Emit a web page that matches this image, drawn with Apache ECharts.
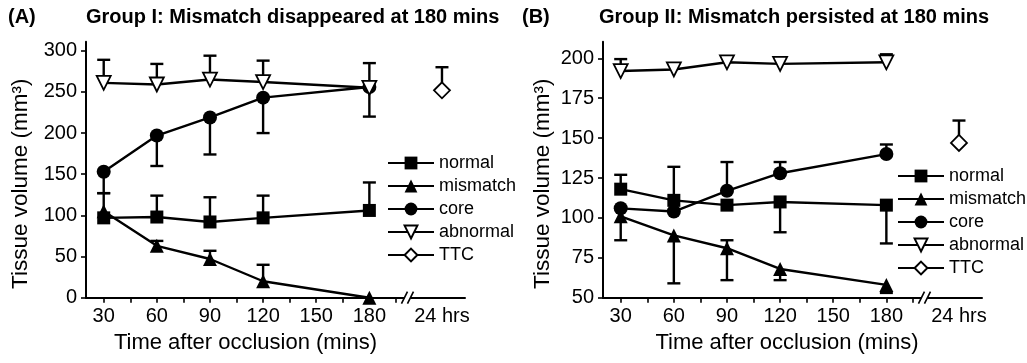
<!DOCTYPE html>
<html>
<head>
<meta charset="utf-8">
<script src="https://cdn.jsdelivr.net/npm/echarts@6/dist/echarts.min.js"></script>
<style>
html, body { margin: 0; padding: 0; background: #fff; }
#chart { width: 1027px; height: 363px; }
</style>
</head>
<body>
<div id="chart"></div>
<script>
const FONT = '"Liberation Sans", Arial, sans-serif';

// time axis
const times = [30, 60, 90, 120, 180];
const timeLabels = [30, 60, 90, 120, 150, 180];
const timeTicks = [30, 45, 60, 75, 90, 105, 120, 135, 150, 165, 180, 195];
const ttcTime = 221;      // the "24 hrs" slot after the break
const breakAt = 201.5;
const legendNames = ['normal', 'mismatch', 'core', 'abnormal', 'TTC'];

// Group I
const aNormal = [97, 98, 92, 97, 106];
const aMismatch = [105, 63, 47, 20, 0];
const aCore = [153, 197, 219, 243, 256];
const aAbnormal = [261, 259, 265, 262, 255];
const aTTC = 252;
// error bar ends, null = not drawn
const aNormalErr = [127, 124, 122, 124, 140];
const aMismatchErr = [null, 69, 57, 40, null];
const aCoreErr = [127, 160, 174, 200, 220];
const aAbnormalErr = [289, 284, 294, 288, 285];
const aTTCErr = 280;
const aTicksY = [0, 50, 100, 150, 200, 250, 300];

// Group II
const bNormal = [118, 111, 108, 110, 108];
const bMismatch = [101, 89, 81, 68, 58];
const bCore = [106, 104, 117, 128, 140];
const bAbnormal = [192, 193, 197.5, 196.5, 197.5];
const bTTC = 147;
const bNormalErr = [127, 132, null, 91, 84];
const bMismatchErr = [86, 59, 61, 61, 53];
const bMismatchErrUp = [null, null, 86, null, null];
const bCoreErr = [null, null, 135, 135, 146];
const bAbnormalErr = [199.5, null, null, null, 202.5];
const bTTCErr = 161;
const bTicksY = [50, 75, 100, 125, 150, 175, 200];

const marks = {
    normal: { symbol: 'rect', size: 13, fill: '#000' },
    mismatch: { symbol: 'triangle', size: 14, fill: '#000' },
    core: { symbol: 'circle', size: 14, fill: '#000' },
    abnormal: { symbol: 'triangle', size: 14, rotate: 180, fill: '#fff' },
    TTC: { symbol: 'diamond', size: 16, fill: '#fff' }
};

function pts(xs, ys) {
    return xs.map((x, i) => [x, ys[i]]);
}
function ends(xs, ys, e) {
    const out = [];
    xs.forEach((x, i) => { if (e[i] != null) out.push([x, ys[i], e[i]]); });
    return out;
}

function errRender(params, api) {
    const p0 = api.coord([api.value(0), api.value(1)]);
    const p1 = api.coord([api.value(0), api.value(2)]);
    const w = 6.5;
    return {
        type: 'group',
        children: [
            { type: 'line', shape: { x1: p0[0], y1: p0[1], x2: p1[0], y2: p1[1] }, style: { stroke: '#000', lineWidth: 2.4 } },
            { type: 'line', shape: { x1: p1[0] - w, y1: p1[1], x2: p1[0] + w, y2: p1[1] }, style: { stroke: '#000', lineWidth: 2.4 } }
        ]
    };
}

function lineSeries(name, data, gi) {
    const m = marks[name];
    return {
        type: 'line', name, data, xAxisIndex: gi, yAxisIndex: gi,
        symbol: m.symbol, symbolSize: m.size, symbolRotate: m.rotate || 0,
        showAllSymbol: true, z: 3, animation: false,
        lineStyle: { color: '#000', width: 2.4 },
        itemStyle: { color: m.fill, borderColor: '#000', borderWidth: m.fill === '#fff' ? 1.8 : 0 }
    };
}
function errSeries(data, gi) {
    return {
        type: 'custom', data, xAxisIndex: gi, yAxisIndex: gi, renderItem: errRender,
        encode: { x: 0, y: [1, 2] }, z: 1, silent: true, animation: false
    };
}

function timeAxis(gi, padRight) {
    return {
        type: 'value', gridIndex: gi, min: 20, max: 234,
        axisLine: { onZero: false, lineStyle: { color: '#000', width: 2 } },
        axisTick: { customValues: timeTicks, length: 5, lineStyle: { color: '#000', width: 1.6 } },
        axisLabel: {
            customValues: timeLabels.concat([ttcTime]),
            formatter: v => (v === ttcTime ? '24 hrs' : String(v)),
            color: '#000', fontSize: 20, fontFamily: FONT, margin: 9
        },
        splitLine: { show: false },
        name: 'Time after occlusion (mins)', nameLocation: 'middle', nameGap: 30,
        nameTextStyle: { color: '#000', fontSize: 22, fontFamily: FONT, padding: [0, padRight, 0, 0] }
    };
}
function volAxis(gi, min, max, ticks, gap) {
    return {
        type: 'value', gridIndex: gi, min, max,
        axisLine: { show: true, onZero: false, lineStyle: { color: '#000', width: 2 } },
        axisTick: { show: true, customValues: ticks, length: 5, lineStyle: { color: '#000', width: 1.6 } },
        axisLabel: { customValues: ticks, color: '#000', fontSize: 20, fontFamily: FONT, margin: 9 },
        splitLine: { show: false },
        name: 'Tissue volume (mm³)', nameLocation: 'middle', nameGap: gap,
        nameTextStyle: { color: '#000', fontSize: 22.5, fontFamily: FONT, padding: [0, 28, 0, 0] }
    };
}
function legendAt(left, top) {
    return {
        orient: 'vertical', left, top, padding: 0,
        itemWidth: 46, itemHeight: 16, itemGap: 5, selectedMode: false,
        data: legendNames,
        textStyle: { color: '#000', fontSize: 18, fontFamily: FONT }
    };
}
const titleStyle = { color: '#000', fontSize: 20, fontWeight: 'bold', fontFamily: FONT };

const chart = echarts.init(document.getElementById('chart'));
chart.setOption({
    backgroundColor: '#fff',
    animation: false,
    title: [
        { text: '(A)', left: 8, top: 7, padding: 0, textStyle: titleStyle },
        { text: 'Group I: Mismatch disappeared at 180 mins', left: 86, top: 7, padding: 0, textStyle: titleStyle },
        { text: '(B)', left: 522, top: 7, padding: 0, textStyle: titleStyle },
        { text: 'Group II: Mismatch persisted at 180 mins', left: 599, top: 7, padding: 0, textStyle: titleStyle }
    ],
    legend: [legendAt(387, 154), legendAt(897, 167)],
    grid: [
        { left: 86, top: 41.7, width: 379, height: 256 },
        { left: 603, top: 41.7, width: 379, height: 256 }
    ],
    xAxis: [timeAxis(0, 60), timeAxis(1, 11)],
    yAxis: [volAxis(0, 0, 311, aTicksY, 54), volAxis(1, 50, 210.4, bTicksY, 49)],
    series: [
        errSeries(ends(times, aNormal, aNormalErr), 0),
        errSeries(ends(times, aMismatch, aMismatchErr), 0),
        errSeries(ends(times, aCore, aCoreErr), 0),
        errSeries(ends(times, aAbnormal, aAbnormalErr), 0),
        errSeries([[ttcTime, aTTC, aTTCErr]], 0),
        lineSeries('normal', pts(times, aNormal), 0),
        lineSeries('mismatch', pts(times, aMismatch), 0),
        lineSeries('core', pts(times, aCore), 0),
        lineSeries('abnormal', pts(times, aAbnormal), 0),
        lineSeries('TTC', [[ttcTime, aTTC]], 0),

        errSeries(ends(times, bNormal, bNormalErr), 1),
        errSeries(ends(times, bMismatch, bMismatchErr), 1),
        errSeries(ends(times, bMismatch, bMismatchErrUp), 1),
        errSeries(ends(times, bCore, bCoreErr), 1),
        errSeries(ends(times, bAbnormal, bAbnormalErr), 1),
        errSeries([[ttcTime, bTTC, bTTCErr]], 1),
        lineSeries('normal', pts(times, bNormal), 1),
        lineSeries('mismatch', pts(times, bMismatch), 1),
        lineSeries('core', pts(times, bCore), 1),
        lineSeries('abnormal', pts(times, bAbnormal), 1),
        lineSeries('TTC', [[ttcTime, bTTC]], 1)
    ]
});

// axis break "//" marks
function breakMark(gi, yMin) {
    const x = chart.convertToPixel({ xAxisIndex: gi }, breakAt);
    const y = chart.convertToPixel({ yAxisIndex: gi }, yMin);
    const st = { stroke: '#000', lineWidth: 1.6 };
    return [
        { type: 'rect', shape: { x: x - 3, y: y - 2, width: 6, height: 4 }, style: { fill: '#fff' }, z: 10 },
        { type: 'line', shape: { x1: x - 6, y1: y + 6, x2: x, y2: y - 6 }, style: st, z: 11 },
        { type: 'line', shape: { x1: x, y1: y + 6, x2: x + 6, y2: y - 6 }, style: st, z: 11 }
    ];
}
chart.setOption({ graphic: breakMark(0, 0).concat(breakMark(1, 50)) });
</script>
</body>
</html>
